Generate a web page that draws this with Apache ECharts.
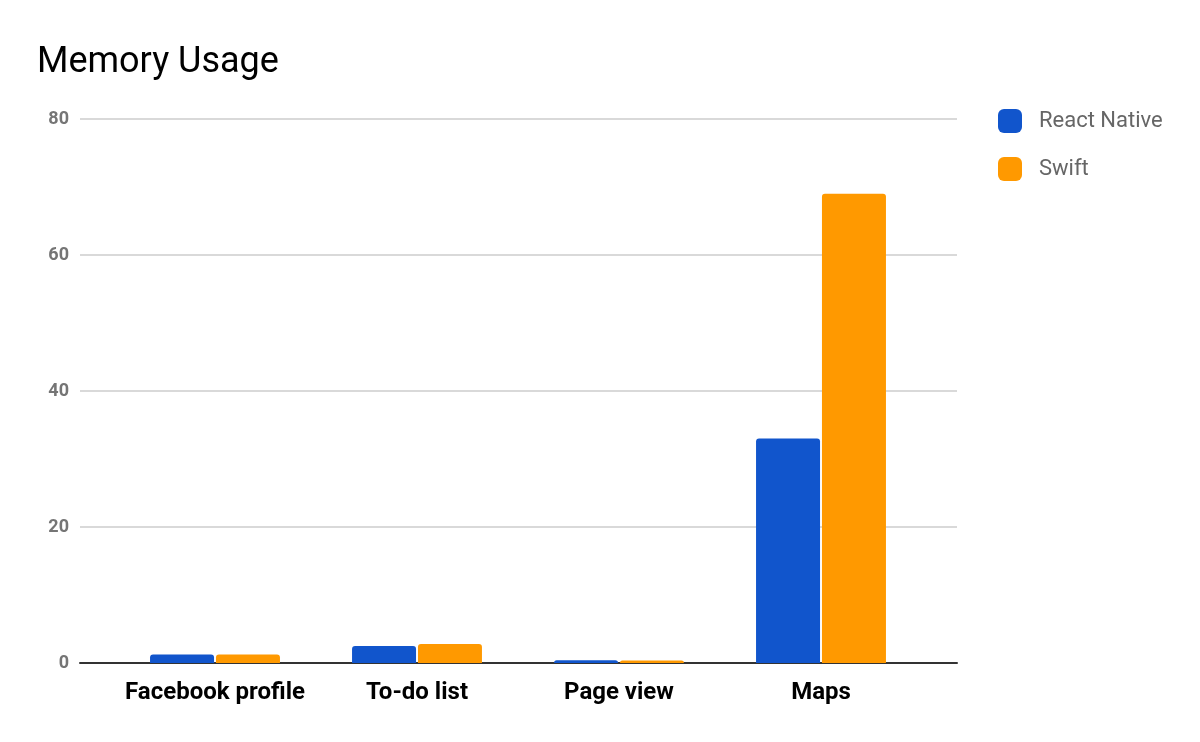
<!DOCTYPE html>
<html><head><meta charset="utf-8">
<script src="https://cdn.jsdelivr.net/npm/echarts@6/dist/echarts.min.js"></script>
<style>html,body{margin:0;padding:0;background:#fff}#c{width:1200px;height:742px}</style>
</head><body><div id="c"></div>
<script>
const categories = ['Facebook profile', 'To-do list', 'Page view', 'Maps'];
const reactNative = [1.25, 2.5, 0.4, 33.0];
const swift = [1.25, 2.8, 0.35, 69.0];
const yTicks = [0, 20, 40, 60, 80];

const chart = echarts.init(document.getElementById('c'));
chart.setOption({
  animation: false,
  title: {
    text: 'Memory Usage', left: 32, top: 40,
    textStyle: { fontFamily: 'Roboto', fontSize: 36, fontWeight: 'normal', color: '#000' }
  },
  legend: {
    orient: 'vertical', left: 998, top: 109, padding: 0, itemWidth: 24, itemHeight: 24, itemGap: 24,
    icon: 'roundRect',
    textStyle: { fontFamily: 'Roboto', fontSize: 22, color: '#666', padding: [0, 0, 0, 12] },
    data: ['React Native', 'Swift']
  },
  grid: [
    { left: 80, right: 243, top: 119, bottom: 79 },
    { left: 114, right: 278, top: 119, bottom: 79 }
  ],
  xAxis: [
    { type: 'value', gridIndex: 0, min: 0, max: 1, show: true,
      axisLine: { show: true, onZero: false, lineStyle: { color: '#333', width: 2 } },
      axisTick: { show: false }, axisLabel: { show: false }, splitLine: { show: false } },
    { type: 'category', gridIndex: 1, data: categories,
      axisLine: { show: false }, axisTick: { show: false },
      axisLabel: { interval: 0, margin: 18, fontFamily: 'Roboto', fontSize: 24, fontWeight: 'bold', color: '#000' } }
  ],
  yAxis: [
    { type: 'value', gridIndex: 0, min: yTicks[0], max: yTicks[yTicks.length - 1], interval: 20,
      axisLine: { show: false }, axisTick: { show: false },
      axisLabel: { margin: 11, fontFamily: 'Roboto', fontSize: 18, fontWeight: 'bold', color: '#757575' },
      splitLine: { lineStyle: { color: '#ccc', width: 1.5 } } },
    { type: 'value', gridIndex: 1, min: yTicks[0], max: yTicks[yTicks.length - 1], interval: 20,
      show: false, splitLine: { show: false } }
  ],
  series: [
    { name: 'React Native', type: 'bar', xAxisIndex: 1, yAxisIndex: 1, data: reactNative,
      barWidth: 64, barGap: '3%', itemStyle: { color: '#1155CC', borderRadius: [3, 3, 0, 0] } },
    { name: 'Swift', type: 'bar', xAxisIndex: 1, yAxisIndex: 1, data: swift,
      barWidth: 64, barGap: '3%', itemStyle: { color: '#FF9900', borderRadius: [3, 3, 0, 0] } }
  ]
});
</script></body></html>
